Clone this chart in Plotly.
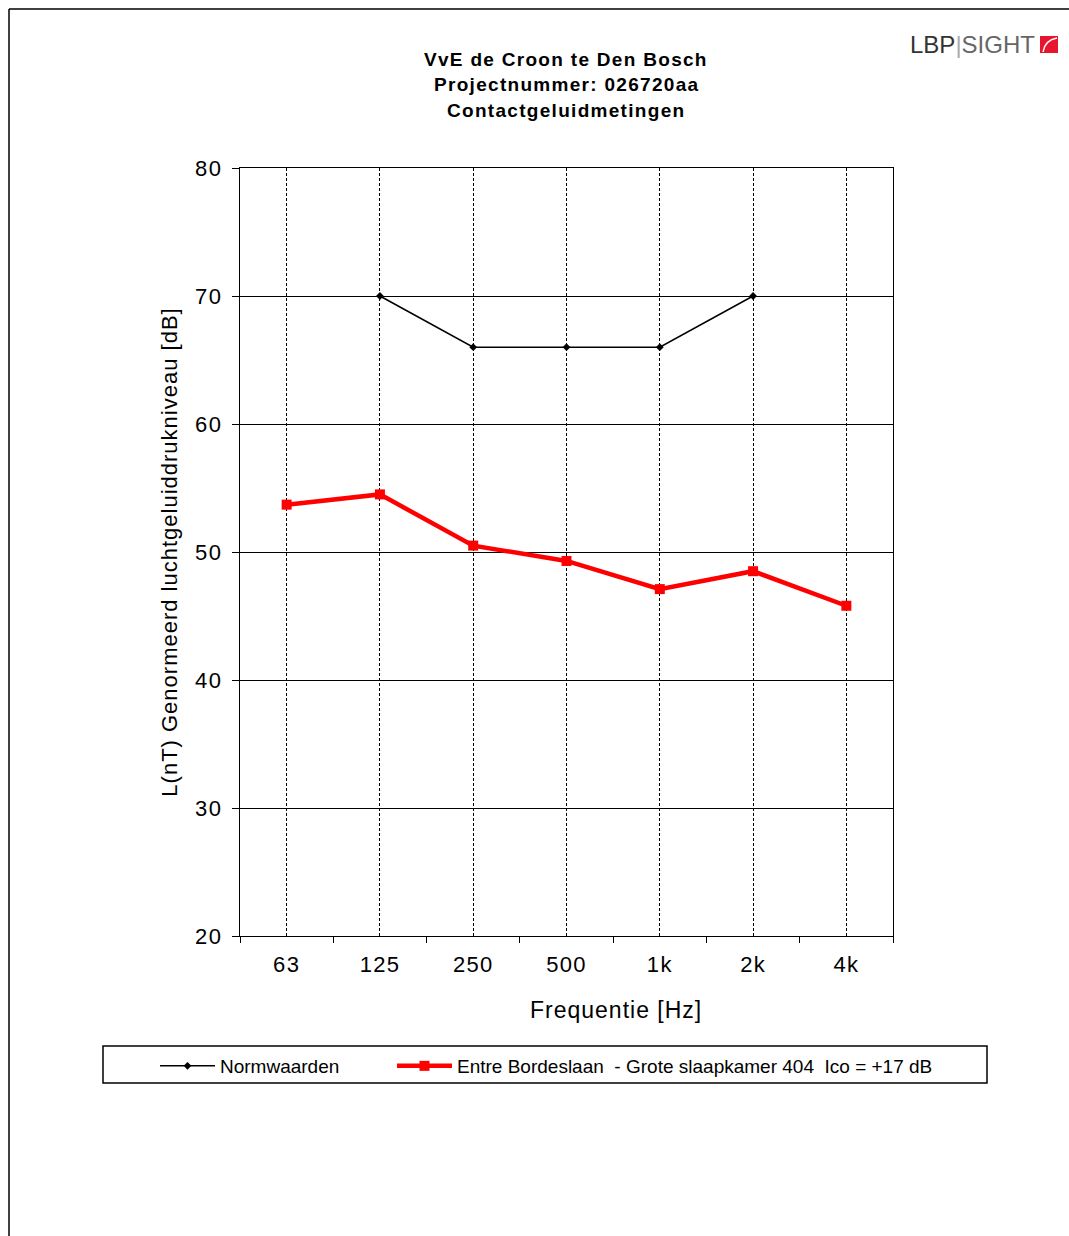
import plotly.graph_objects as go

categories = ["63", "125", "250", "500", "1k", "2k", "4k"]
norm_values = [None, 70, 66, 66, 66, 70, None]
measured_values = [53.7, 54.5, 50.5, 49.3, 47.1, 48.5, 45.8]
y_ticks = [20, 30, 40, 50, 60, 70, 80]

norm_name = "Normwaarden"
meas_name = "Entre Bordeslaan  - Grote slaapkamer 404  Ico = +17 dB"
title_lines = ["VvE de Croon te Den Bosch", "Projectnummer: 026720aa", "Contactgeluidmetingen"]
x_title = "Frequentie [Hz]"
y_title = "L(nT) Genormeerd luchtgeluiddrukniveau [dB]"

W, H = 1069, 1236
L, R, T, B = 240, 1069 - 893, 168, 1236 - 936
pw, ph = W - L - R, H - T - B

def px(x):
    return (x - L) / pw

def py(y):
    return (H - B - y) / ph

def sp(text, ls):
    return f"<span style='letter-spacing:{ls}px'>{text}</span>"

xs = list(range(len(categories)))
FONT = "Liberation Sans, Arial, sans-serif"

fig = go.Figure()
fig.add_trace(go.Scatter(
    x=xs, y=norm_values, name=norm_name, mode="lines+markers",
    line=dict(color="black", width=1.5),
    marker=dict(symbol="diamond", size=6, color="black"),
    legend="legend",
))
fig.add_trace(go.Scatter(
    x=xs, y=measured_values, name=meas_name, mode="lines+markers",
    line=dict(color="#ff0000", width=4.5),
    marker=dict(symbol="square", size=10, color="#ff0000"),
    legend="legend2",
))

leg_common = dict(
    orientation="h", xanchor="left", yanchor="top",
    font=dict(size=19, family=FONT), bgcolor="rgba(0,0,0,0)",
    borderwidth=0, itemwidth=55,
)

fig.update_layout(
    width=W, height=H,
    margin=dict(l=L, r=R, t=T, b=B, pad=0),
    paper_bgcolor="white", plot_bgcolor="white",
    font=dict(family=FONT, color="black"),
    showlegend=True,
    legend=dict(x=px(155), y=py(1047), **leg_common),
    legend2=dict(x=px(392), y=py(1047), **leg_common),
)

fig.update_xaxes(
    range=[-0.5, len(categories) - 0.5],
    tickmode="array", tickvals=xs, ticktext=[sp(c, 1.3) for c in categories],
    ticks="", showgrid=True, gridcolor="black", gridwidth=1, griddash="3px,2px",
    showline=True, linecolor="black", linewidth=1, mirror=True,
    tickfont=dict(size=22), ticklabelstandoff=9,
    minor=dict(tickmode="array", tickvals=[i - 0.5 for i in range(len(categories) + 1)],
               ticks="outside", ticklen=6, tickcolor="black", tickwidth=1, showgrid=False),
    zeroline=False,
)
fig.update_yaxes(
    range=[20, 80], tickmode="array", tickvals=y_ticks, ticktext=[sp(str(v), 1.5) for v in y_ticks],
    ticks="outside", ticklen=7, tickcolor="black",
    showgrid=True, gridcolor="black", gridwidth=1,
    showline=True, linecolor="black", linewidth=1, mirror=True,
    tickfont=dict(size=22), ticklabelstandoff=5,
    title=dict(text=sp(y_title, 1.0), font=dict(size=22), standoff=11),
    zeroline=False,
)

# X axis title (offset to the right as in the original)
fig.add_annotation(
    text=sp(x_title, 1.0), x=px(616), y=py(1010), xref="paper", yref="paper",
    showarrow=False, xanchor="center", yanchor="middle", font=dict(size=23, family=FONT),
)

# Title
for i, line in enumerate(title_lines):
    fig.add_annotation(
        text="<b>" + sp(line, 1.3) + "</b>", x=px(566), y=py(59 + i * 25.5),
        xref="paper", yref="paper", showarrow=False,
        xanchor="center", yanchor="middle", font=dict(size=19, family=FONT),
    )

# Page border (top and left)
fig.add_shape(type="line", xref="paper", yref="paper",
              x0=px(9), y0=py(9), x1=px(1069), y1=py(9), line=dict(color="black", width=1.5))
fig.add_shape(type="line", xref="paper", yref="paper",
              x0=px(9), y0=py(9), x1=px(9), y1=py(1236), line=dict(color="black", width=1.5))

# Legend box
fig.add_shape(type="rect", xref="paper", yref="paper",
              x0=px(103), y0=py(1046), x1=px(987), y1=py(1083), line=dict(color="black", width=1.5))

# Logo
fig.add_annotation(
    text="<span style='color:#333333'>LBP</span><span style='color:#aaaaaa'>|</span><span style='color:#666666'>SIGHT</span>",
    x=px(1037), y=py(44), xref="paper", yref="paper", showarrow=False,
    xanchor="right", yanchor="middle", font=dict(size=24, family=FONT),
)
fig.add_shape(type="rect", xref="paper", yref="paper",
              x0=px(1040), y0=py(36), x1=px(1058), y1=py(53),
              fillcolor="#e8152e", line=dict(width=0))
fig.add_shape(type="path", xref="paper", yref="paper",
              path=f"M {px(1043)} {py(52)} Q {px(1045)} {py(40)} {px(1057)} {py(38)}",
              line=dict(color="white", width=1.5))

fig.write_html("out.html", config={"displayModeBar": False},
               post_script="document.body.style.margin='0';")
